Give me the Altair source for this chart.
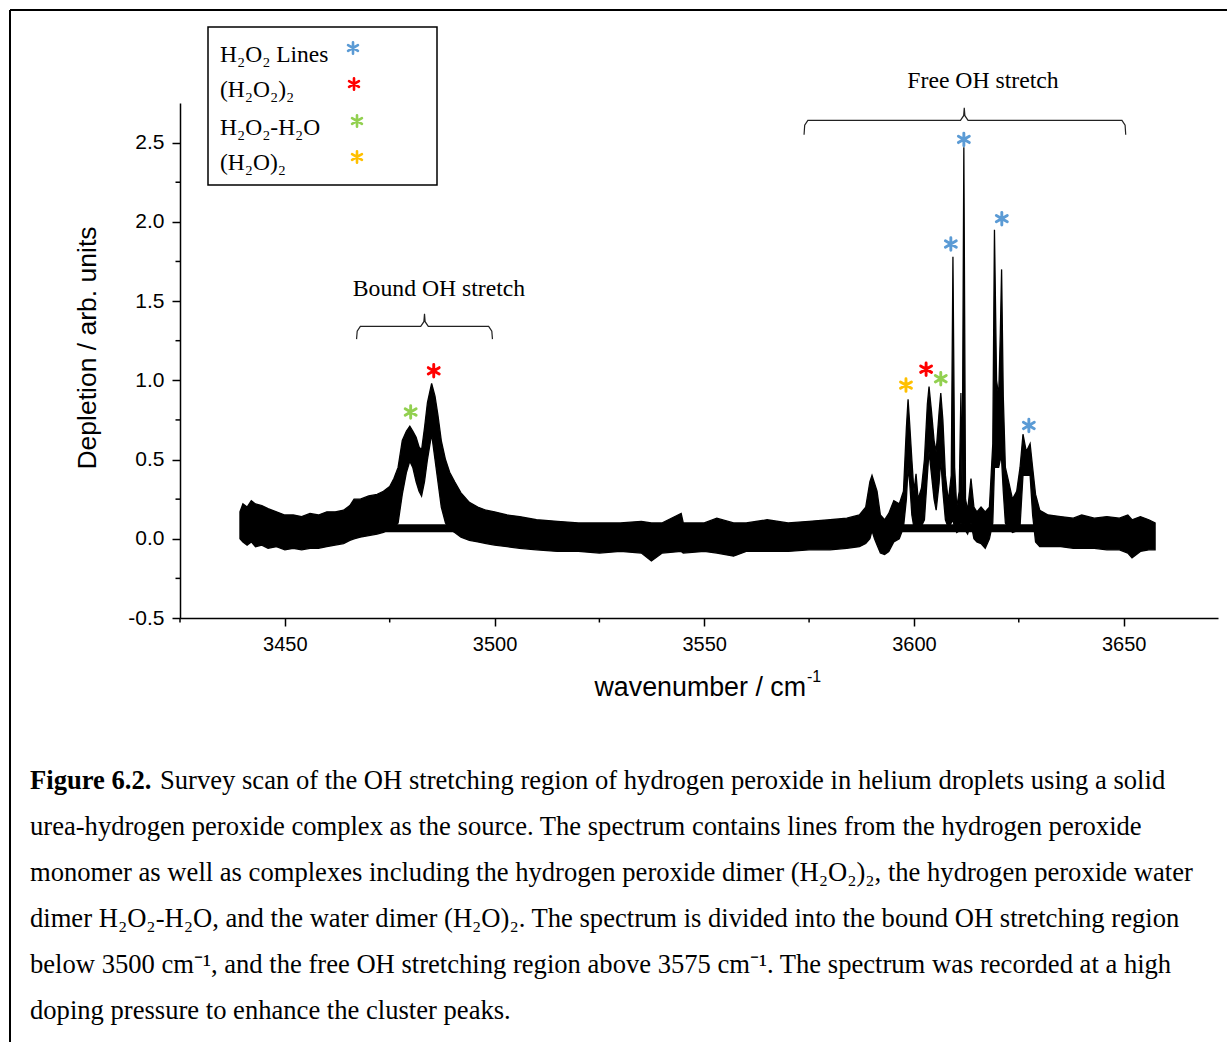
import altair as alt
import pandas as pd

# ---------------- data ----------------
wn = [3439.3, 3440.0, 3441.0, 3442.0, 3443.0, 3444.5, 3446.0, 3448.0, 3450.0, 3452.0,
      3454.0, 3456.0, 3458.0, 3460.0, 3462.0, 3464.0, 3465.5, 3466.5, 3468.0, 3470.0,
      3472.0, 3473.5, 3475.0, 3476.0, 3477.0, 3478.0, 3479.0, 3479.8, 3480.5, 3481.3,
      3482.0, 3482.6, 3483.3, 3484.0, 3485.0, 3485.8, 3486.5, 3487.3, 3488.3, 3489.3,
      3490.5, 3492.0, 3494.0, 3496.0, 3498.0, 3500.0, 3503.0, 3506.0, 3510.0, 3515.0,
      3520.0, 3525.0, 3530.0, 3535.0, 3537.4, 3540.0, 3544.5, 3545.0, 3550.0, 3553.0,
      3557.0, 3560.0, 3565.0, 3570.0, 3575.0, 3580.0, 3584.0, 3587.0, 3588.5, 3589.5,
      3590.0, 3590.6, 3591.2, 3592.0, 3593.0, 3594.0, 3595.2, 3596.5, 3597.5, 3598.2,
      3598.6, 3599.0, 3599.5, 3600.0, 3600.5, 3601.0, 3601.8, 3602.5, 3603.2, 3603.6,
      3604.2, 3604.8, 3605.3, 3606.0, 3606.4, 3606.9, 3607.5, 3608.2, 3608.9, 3609.3,
      3609.7, 3610.2, 3610.8, 3611.2, 3611.5, 3611.9, 3612.3, 3612.8, 3613.6, 3614.3,
      3615.0, 3616.0, 3617.0, 3618.0, 3618.8, 3619.2, 3619.7, 3620.2, 3620.6, 3620.9,
      3621.3, 3621.8, 3622.5, 3623.5, 3624.5, 3625.3, 3626.0, 3626.8, 3627.7, 3628.3,
      3629.0, 3630.0, 3632.0, 3635.0, 3638.0, 3640.0, 3643.0, 3646.0, 3649.0, 3651.0,
      3652.0, 3654.0, 3656.0, 3657.5]
hi = [0.17, 0.22, 0.20, 0.24, 0.22, 0.21, 0.19, 0.17, 0.15, 0.15,
      0.14, 0.16, 0.15, 0.17, 0.17, 0.18, 0.21, 0.25, 0.25, 0.27,
      0.28, 0.30, 0.33, 0.38, 0.45, 0.62, 0.68, 0.71, 0.68, 0.64,
      0.58, 0.56, 0.70, 0.86, 0.98, 0.90, 0.78, 0.62, 0.50, 0.42,
      0.36, 0.29, 0.23, 0.20, 0.18, 0.17, 0.15, 0.14, 0.12, 0.11,
      0.10, 0.10, 0.10, 0.11, 0.10, 0.10, 0.16, 0.10, 0.10, 0.13,
      0.10, 0.10, 0.12, 0.10, 0.11, 0.12, 0.13, 0.15, 0.20, 0.36,
      0.40, 0.35, 0.30, 0.15, 0.12, 0.16, 0.24, 0.22, 0.30, 0.70,
      0.88, 0.72, 0.50, 0.30, 0.41, 0.25, 0.32, 0.50, 0.85, 0.96,
      0.80, 0.62, 0.55, 0.80, 0.92, 0.75, 0.40, 0.24, 0.40, 1.78,
      0.45, 0.20, 0.30, 0.92, 0.30, 2.47, 0.25, 0.18, 0.38, 0.20,
      0.17, 0.20, 0.17, 0.20, 0.60, 1.95, 1.00, 0.90, 1.30, 1.70,
      0.90, 0.45, 0.37, 0.25, 0.30, 0.45, 0.66, 0.55, 0.60, 0.45,
      0.28, 0.18, 0.15, 0.14, 0.13, 0.15, 0.13, 0.14, 0.13, 0.15,
      0.12, 0.14, 0.12, 0.10]
lo = [0.00, -0.02, -0.04, -0.02, -0.05, -0.04, -0.06, -0.05, -0.07, -0.06,
      -0.07, -0.06, -0.06, -0.05, -0.04, -0.03, -0.01, 0.00, 0.01, 0.02,
      0.03, 0.04, 0.06, 0.07, 0.10, 0.28, 0.42, 0.49, 0.45, 0.36,
      0.30, 0.27, 0.36, 0.50, 0.66, 0.50, 0.36, 0.20, 0.10, 0.06,
      0.04, 0.01, -0.01, -0.02, -0.03, -0.04, -0.05, -0.06, -0.07, -0.08,
      -0.08, -0.09, -0.08, -0.09, -0.14, -0.09, -0.08, -0.09, -0.08, -0.09,
      -0.11, -0.08, -0.08, -0.08, -0.07, -0.07, -0.06, -0.05, -0.03, 0.00,
      0.05, 0.00, -0.04, -0.09, -0.10, -0.08, -0.02, 0.00, 0.07, 0.25,
      0.45, 0.35, 0.15, 0.07, 0.08, 0.07, 0.08, 0.12, 0.40, 0.55,
      0.40, 0.25, 0.18, 0.35, 0.50, 0.30, 0.12, 0.07, 0.10, 0.12,
      0.07, 0.04, 0.05, 0.10, 0.08, 0.10, 0.05, 0.03, 0.10, 0.00,
      -0.02, -0.03, -0.06, 0.00, 0.10, 0.45, 0.45, 0.45, 0.50, 0.50,
      0.30, 0.10, 0.07, 0.04, 0.05, 0.08, 0.40, 0.40, 0.40, 0.15,
      -0.02, -0.05, -0.05, -0.05, -0.06, -0.06, -0.06, -0.07, -0.07, -0.09,
      -0.12, -0.08, -0.07, -0.07]

# flat baseline artefact (thick trace)
bar_wn = [3473.0, 3629.0]
bar_level = [0.066, 0.066]

# peak assignments (asterisks)
species = ["H\u2082O\u2082 Lines", "(H\u2082O\u2082)\u2082", "H\u2082O\u2082-H\u2082O", "(H\u2082O)\u2082"]
species_colors = ["#5B9BD5", "#FF0000", "#92D050", "#FFC000"]
star_x = [3611.9, 3608.8, 3620.95, 3627.4, 3485.5, 3602.9, 3480.0, 3606.4, 3598.1]
star_y = [2.52, 1.86, 2.02, 0.715, 1.06, 1.07, 0.80, 1.01, 0.97]
star_sp = [species[0], species[0], species[0], species[0], species[1], species[1],
           species[2], species[2], species[3]]

# region braces: start, centre, end
brace_bound = [3467.1, 3483.3, 3499.5]
brace_free = [3573.8, 3612.0, 3650.5]

x_major = [3450, 3500, 3550, 3600, 3650]
x_minor = [3425, 3475, 3525, 3575, 3625]
y_major = [-0.5, 0.0, 0.5, 1.0, 1.5, 2.0, 2.5]
y_minor = [-0.25, 0.25, 0.75, 1.25, 1.75, 2.25]

caption = [
    "urea-hydrogen peroxide complex as the source. The spectrum contains lines from the hydrogen peroxide",
    "monomer as well as complexes including the hydrogen peroxide dimer (H\u2082O\u2082)\u2082, the hydrogen peroxide water",
    "dimer H\u2082O\u2082-H\u2082O, and the water dimer (H\u2082O)\u2082. The spectrum is divided into the bound OH stretching region",
    "below 3500 cm\u207b\u00b9, and the free OH stretching region above 3575 cm\u207b\u00b9. The spectrum was recorded at a high",
    "doping pressure to enhance the cluster peaks.",
]
caption_first_bold = "Figure 6.2."
caption_first_rest = "Survey scan of the OH stretching region of hydrogen peroxide in helium droplets using a solid"

# ---------------- chart ----------------
W, H = 1038, 515
SANS = "Liberation Sans"
SERIF = "Liberation Serif"
CAP = 26.6

xs = alt.Scale(domain=[3425, 3672.5], nice=False, zero=False)
ys = alt.Scale(domain=[-0.5, 2.75], nice=False, zero=False)
AX = alt.Axis(values=x_major, format="d", title=None, grid=False, tickSize=8, tickWidth=1.5,
              tickColor="black", domainColor="black", domainWidth=1.5, labelFontSize=20,
              labelFont=SANS, labelColor="black", labelPadding=8)
AY = alt.Axis(values=y_major, format=".1f", title=None, grid=False, tickSize=8, tickWidth=1.5,
              tickColor="black", domainColor="black", domainWidth=1.5, labelFontSize=21,
              labelFont=SANS, labelColor="black", labelPadding=8,
              labelExpr="replace(datum.label, '\u2212', '-')")


def X(f):
    return alt.X(f, scale=xs, axis=AX, title=None)


def Y(f):
    return alt.Y(f, scale=ys, axis=AY, title=None)


spec = pd.DataFrame({"wn": wn, "hi": hi, "lo": lo})

band = alt.Chart(spec).mark_area(color="black", stroke="black", strokeWidth=1.3,
                                 strokeJoin="miter").encode(
    x=X("wn:Q"), y=Y("hi:Q"), y2="lo:Q")

bar = alt.Chart(pd.DataFrame({"wn": bar_wn, "v": bar_level})).mark_line(
    color="black", strokeWidth=8, strokeCap="butt").encode(x=X("wn:Q"), y=Y("v:Q"))

STAR = "M0,-1L0,1M-0.866,-0.5L0.866,0.5M-0.866,0.5L0.866,-0.5"
stars = alt.Chart(pd.DataFrame({"x": star_x, "y": star_y, "sp": star_sp})).mark_point(
    shape=STAR, filled=False, size=160, strokeWidth=2.9, strokeCap="round", opacity=1).encode(
    x=X("x:Q"), y=Y("y:Q"),
    color=alt.Color("sp:N", scale=alt.Scale(domain=species, range=species_colors), legend=None))


def brace(b, y_line, y_end, y_cusp, r=0.9):
    x0, xc, x1 = b
    pts = [(x0, y_end), (x0 + 0.15, y_line - 0.03), (x0 + r, y_line), (xc - r, y_line),
           (xc - 0.15, y_line + 0.03), (xc, y_cusp), (xc + 0.15, y_line + 0.03),
           (xc + r, y_line), (x1 - r, y_line), (x1 - 0.15, y_line - 0.03), (x1, y_end)]
    return pd.DataFrame({"x": [p[0] for p in pts], "y": [p[1] for p in pts],
                         "o": list(range(len(pts)))})


braces = []
for b, yl, ye, yc in [(brace_bound, 1.34, 1.26, 1.42), (brace_free, 2.64, 2.55, 2.72)]:
    braces.append(alt.Chart(brace(b, yl, ye, yc)).mark_line(color="#222", strokeWidth=1.2).encode(
        x=X("x:Q"), y=Y("y:Q"), order="o:Q"))

# minor ticks
xminor = alt.Chart(pd.DataFrame({"t": x_minor})).mark_rule(color="black", strokeWidth=1.5).encode(
    x=X("t:Q"), y=alt.value(H), y2=alt.value(H + 4.5))
yminor = alt.Chart(pd.DataFrame({"t": y_minor})).mark_rule(color="black", strokeWidth=1.5).encode(
    y=Y("t:Q"), x=alt.value(0), x2=alt.value(-4.5))


def txt(text, x, y, size, font=SERIF, align="left", weight="normal", angle=0, baseline="middle"):
    kw = dict(align=align, baseline=baseline, font=font, fontSize=size, fontWeight=weight,
              color="black")
    if angle:
        kw["angle"] = angle
    return alt.Chart(pd.DataFrame({"t": [text]})).mark_text(**kw).encode(
        text="t:N", x=alt.value(x), y=alt.value(y))


texts = [
    txt("Depletion / arb. units", -92, 245, 26.5, font=SANS, align="center", angle=270),
    txt("wavenumber / cm", 626, 585, 26.8, font=SANS, align="right"),
    txt("-1", 627, 574, 16, font=SANS, align="left"),
    txt("Bound OH stretch", 259, 186, 23.7, align="center"),
    txt("Free OH stretch", 803, -22, 23.7, align="center"),
    txt(caption_first_bold, -150, 678, CAP, weight="bold"),
    txt(caption_first_rest, -20, 678, CAP),
]
for i, line in enumerate(caption):
    texts.append(txt(line, -150, 724 + 46 * i, CAP))

# legend box
legend_box = alt.Chart(pd.DataFrame({"a": [0]})).mark_rect(
    fill="white", stroke="black", strokeWidth=1.5).encode(
    x=alt.value(28), x2=alt.value(257), y=alt.value(-76), y2=alt.value(82))
legend_items = [legend_box]
leg_y = [-48, -13, 25, 60]
star_leg = [(173, -55), (174, -19), (177, 18), (177, 54)]
for i, sp in enumerate(species):
    legend_items.append(txt(sp, 40, leg_y[i], 23.5))
    legend_items.append(alt.Chart(pd.DataFrame({"a": [0]})).mark_point(
        shape=STAR, filled=False, size=130, strokeWidth=2.6, strokeCap="round", opacity=1,
        color=species_colors[i]).encode(x=alt.value(star_leg[i][0]), y=alt.value(star_leg[i][1])))

# page frame
frame_top = alt.Chart(pd.DataFrame({"a": [0]})).mark_rule(color="black", strokeWidth=2).encode(
    x=alt.value(-170), x2=alt.value(1050), y=alt.value(-93))
frame_left = alt.Chart(pd.DataFrame({"a": [0]})).mark_rule(color="black", strokeWidth=2).encode(
    x=alt.value(-170), y=alt.value(-93), y2=alt.value(950))

chart = alt.layer(band, bar, *braces, stars, xminor, yminor, *texts, *legend_items,
                  frame_top, frame_left).properties(
    width=W, height=H,
    autosize=alt.AutoSizeParams(type="none"),
    padding={"left": 180, "top": 103, "right": 9, "bottom": 424},
    background="white",
).configure_view(stroke=None)

chart.save("out.html", embed_options={"renderer": "svg", "actions": False})
